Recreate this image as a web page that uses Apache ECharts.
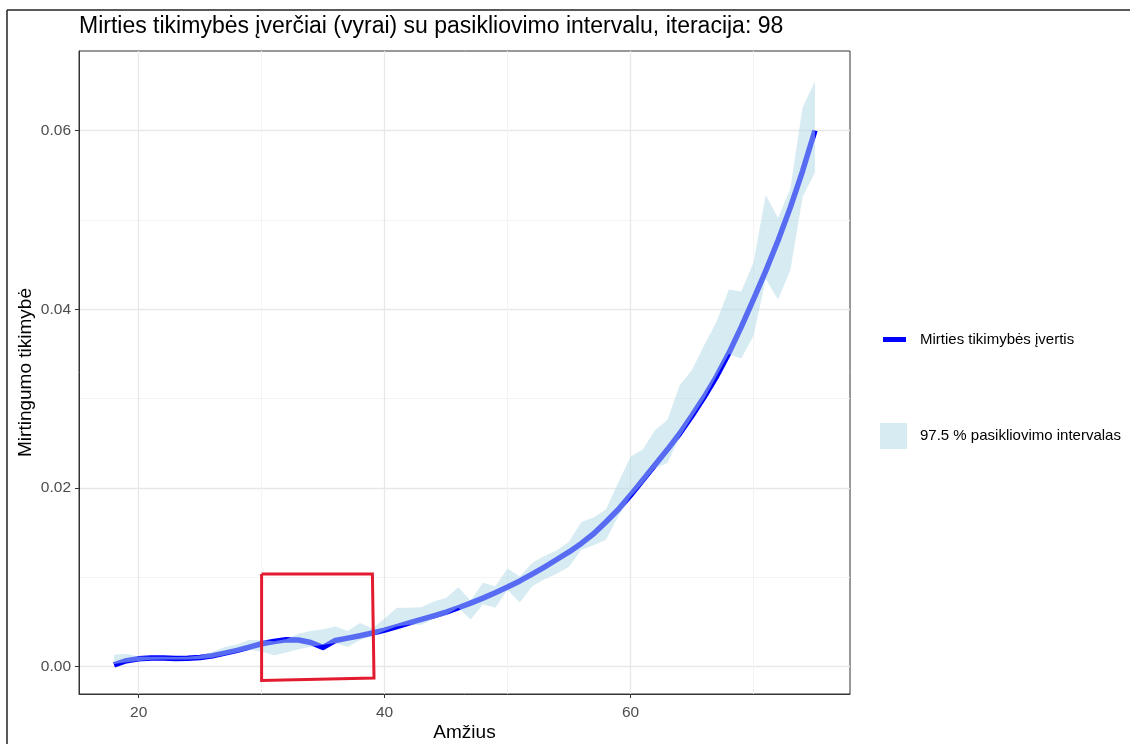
<!DOCTYPE html>
<html>
<head>
<meta charset="utf-8">
<script src="https://cdn.jsdelivr.net/npm/echarts@6/dist/echarts.min.js"></script>
<style>
  html, body { margin: 0; padding: 0; background: #fff; }
  #chart { width: 1130px; height: 744px; }
</style>
</head>
<body>
<div id="chart"></div>
<script>
// Age (years)
const ages = [18, 19, 20, 21, 22, 23, 24, 25, 26, 27, 28, 29, 30, 31, 32, 33, 34, 35, 36, 37,
  38, 39, 40, 41, 42, 43, 44, 45, 46, 47, 48, 49, 50, 51, 52, 53, 54, 55, 56, 57,
  58, 59, 60, 61, 62, 63, 64, 65, 66, 67, 68, 69, 70, 71, 72, 73, 74, 75];

// Estimated probability of death (men)
const estimate = [0.00020, 0.00068, 0.00090, 0.00097, 0.00097, 0.00093, 0.00095, 0.00104, 0.00123, 0.00153,
  0.00183, 0.00220, 0.00257, 0.00283, 0.00302, 0.00300, 0.00272, 0.00216, 0.00294, 0.00320,
  0.00347, 0.00377, 0.00410, 0.00450, 0.00490, 0.00530, 0.00570, 0.00612, 0.00660, 0.00712,
  0.00768, 0.00828, 0.00892, 0.00960, 0.01036, 0.01116, 0.01200, 0.01285, 0.01380, 0.01488,
  0.01620, 0.01760, 0.01920, 0.02090, 0.02260, 0.02430, 0.02610, 0.02810, 0.03020, 0.03250,
  0.03510, 0.03800, 0.04110, 0.04430, 0.04770, 0.05140, 0.05550, 0.06000];

// 97.5 % confidence interval bounds
const ciLower = [0.00030, 0.00050, 0.00065, 0.00078, 0.00082, 0.00080, 0.00080, 0.00088, 0.00100, 0.00130,
  0.00160, 0.00190, 0.00170, 0.00130, 0.00160, 0.00195, 0.00225, 0.00245, 0.00265, 0.00220,
  0.00300, 0.00340, 0.00400, 0.00450, 0.00470, 0.00470, 0.00540, 0.00580, 0.00660, 0.00530,
  0.00700, 0.00660, 0.00860, 0.00720, 0.00900, 0.00980, 0.01040, 0.01120, 0.01310, 0.01360,
  0.01420, 0.01680, 0.01900, 0.02050, 0.02220, 0.02280, 0.02570, 0.02790, 0.03000, 0.03250,
  0.03500, 0.03450, 0.03700, 0.04340, 0.04110, 0.04440, 0.05260, 0.05530];

const ciUpper = [0.00134, 0.00146, 0.00115, 0.00112, 0.00112, 0.00108, 0.00112, 0.00125, 0.00165, 0.00220,
  0.00250, 0.00300, 0.00300, 0.00285, 0.00310, 0.00370, 0.00400, 0.00420, 0.00450, 0.00400,
  0.00490, 0.00430, 0.00540, 0.00660, 0.00660, 0.00665, 0.00730, 0.00770, 0.00890, 0.00740,
  0.00940, 0.00900, 0.01100, 0.01010, 0.01160, 0.01240, 0.01300, 0.01400, 0.01620, 0.01670,
  0.01760, 0.02060, 0.02350, 0.02430, 0.02650, 0.02760, 0.03150, 0.03320, 0.03600, 0.03860,
  0.04220, 0.04200, 0.04520, 0.05280, 0.05020, 0.05350, 0.06260, 0.06550];

// Tick positions
const xTicks = [20, 40, 60];
const xMinorTicks = [30, 50, 70];
const yTicks = [0, 0.02, 0.04, 0.06];
const yMinorTicks = [0.01, 0.03, 0.05];

// Highlight box around the dip at ages 30-39 (corner points, drawn as a closed path)
const boxAge  = [30.00, 39.01, 39.14, 30.00, 30.00];
const boxProb = [0.01037, 0.01037, -0.00126, -0.00153, 0.01037];

const LINE_NAME = 'Mirties tikimybės įvertis';
const BAND_NAME = '97.5 % pasikliovimo intervalas';
const FONT = '"Liberation Sans", Arial, sans-serif';

const X_MIN = 15.15, X_MAX = 77.85;
const Y_MIN = -0.00305, Y_MAX = 0.0689;

const chart = echarts.init(document.getElementById('chart'), null, { renderer: 'canvas' });

const estData = ages.map((a, i) => [a, estimate[i]]);
const bandData = ages.map((a, i) => [a, ciLower[i], ciUpper[i]]);
const boxData = boxAge.map((a, i) => [a, boxProb[i]]);

// Ribbon between the interval bounds: upper edge left-to-right, lower edge back
function renderBand(params, api) {
  if (params.dataIndex !== 0) return null;
  const pts = [];
  for (let i = 0; i < ages.length; i++) pts.push(api.coord([ages[i], ciUpper[i]]));
  for (let i = ages.length - 1; i >= 0; i--) pts.push(api.coord([ages[i], ciLower[i]]));
  return {
    type: 'polygon',
    shape: { points: pts },
    style: { fill: 'rgba(173,216,230,0.5)', stroke: null }
  };
}

const option = {
  animation: false,
  backgroundColor: '#ffffff',
  textStyle: { fontFamily: FONT },
  title: {
    text: 'Mirties tikimybės įverčiai (vyrai) su pasikliovimo intervalu, iteracija: 98',
    left: 79,
    top: 15,
    padding: 0,
    textStyle: { fontFamily: FONT, fontSize: 23, fontWeight: 'normal', color: '#000' }
  },
  graphic: [
    { type: 'line', shape: { x1: 7, y1: 10, x2: 7, y2: 744 }, style: { stroke: '#222', lineWidth: 1.5 }, silent: true },
    { type: 'line', shape: { x1: 7, y1: 10, x2: 1130, y2: 10 }, style: { stroke: '#222', lineWidth: 1.5 }, silent: true }
  ],
  legend: [
    {
      data: [{ name: LINE_NAME, icon: 'rect', itemStyle: { color: '#0000ff', borderWidth: 0 } }],
      orient: 'vertical',
      left: 883,
      top: 332,
      padding: 0,
      itemWidth: 23,
      itemHeight: 5,
      selectedMode: false,
      textStyle: { fontFamily: FONT, fontSize: 15, color: '#000', padding: [0, 0, 0, 9] }
    },
    {
      data: [{ name: BAND_NAME, icon: 'rect', itemStyle: { color: '#d6ebf2', opacity: 1, borderWidth: 0 } }],
      orient: 'vertical',
      left: 880,
      top: 423,
      padding: 0,
      itemWidth: 27,
      itemHeight: 26,
      selectedMode: false,
      textStyle: { fontFamily: FONT, fontSize: 15, color: '#000', padding: [0, 0, 0, 8] }
    }
  ],
  grid: {
    left: 79, right: 280, top: 51, bottom: 50,
    show: true, borderColor: '#333', borderWidth: 1, backgroundColor: '#fff',
    containLabel: false,
    outerBoundsMode: 'none'
  },
  xAxis: [
    {
      type: 'value', min: X_MIN, max: X_MAX, position: 'bottom',
      name: 'Amžius', nameLocation: 'middle', nameGap: 29, nameMoveOverlap: false,
      nameTextStyle: { fontFamily: FONT, fontSize: 19, color: '#000' },
      axisLine: { show: true, onZero: false, lineStyle: { color: '#333', width: 1 } },
      axisTick: { show: true, length: 4, customValues: xTicks, lineStyle: { color: '#333', width: 1 } },
      axisLabel: { customValues: xTicks, color: '#4d4d4d', fontSize: 15.5, margin: 11, fontFamily: FONT },
      splitLine: { show: true, lineStyle: { color: '#e8e8e8', width: 1.3 } }
    },
    {
      type: 'value', min: X_MIN, max: X_MAX, position: 'top',
      axisLine: { show: false },
      axisTick: { show: false, customValues: xMinorTicks },
      axisLabel: { show: false, customValues: xMinorTicks },
      splitLine: { show: true, lineStyle: { color: '#f3f3f3', width: 1 } }
    }
  ],
  yAxis: [
    {
      type: 'value', min: Y_MIN, max: Y_MAX, position: 'left',
      name: 'Mirtingumo tikimybė', nameLocation: 'middle', nameGap: 44, nameRotate: 90, nameMoveOverlap: false,
      nameTextStyle: { fontFamily: FONT, fontSize: 19, color: '#000' },
      axisLine: { show: true, onZero: false, lineStyle: { color: '#333', width: 1 } },
      axisTick: { show: true, length: 4, customValues: yTicks, lineStyle: { color: '#333', width: 1 } },
      axisLabel: {
        customValues: yTicks, color: '#4d4d4d', fontSize: 15.5, margin: 8, fontFamily: FONT,
        formatter: v => v.toFixed(2)
      },
      splitLine: { show: true, lineStyle: { color: '#e8e8e8', width: 1.3 } }
    },
    {
      type: 'value', min: Y_MIN, max: Y_MAX, position: 'right',
      axisLine: { show: false },
      axisTick: { show: false, customValues: yMinorTicks },
      axisLabel: { show: false, customValues: yMinorTicks },
      splitLine: { show: true, lineStyle: { color: '#f3f3f3', width: 1 } }
    }
  ],
  series: [
    {
      name: LINE_NAME,
      type: 'line',
      xAxisIndex: 0, yAxisIndex: 0,
      data: estData,
      showSymbol: false, symbol: 'none',
      lineStyle: { color: '#0000ff', width: 5.5, cap: 'butt', join: 'round' },
      itemStyle: { color: '#0000ff' },
      z: 2,
      silent: true
    },
    {
      name: BAND_NAME,
      type: 'custom',
      xAxisIndex: 0, yAxisIndex: 0,
      data: bandData,
      encode: { x: 0, y: [1, 2] },
      renderItem: renderBand,
      itemStyle: { color: '#d6ebf2' },
      z: 3,
      silent: true
    },
    {
      name: 'box',
      type: 'line',
      xAxisIndex: 0, yAxisIndex: 0,
      data: boxData,
      showSymbol: false, symbol: 'none',
      lineStyle: { color: '#e31b2f', width: 3, join: 'miter' },
      clip: false,
      z: 5,
      silent: true
    }
  ]
};

chart.setOption(option);
</script>
</body>
</html>
